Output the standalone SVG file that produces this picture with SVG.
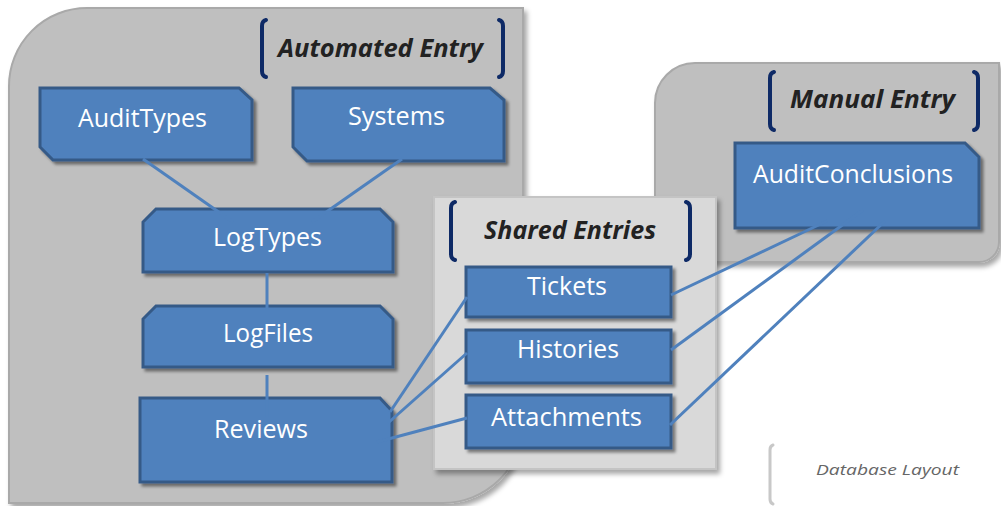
<svg xmlns="http://www.w3.org/2000/svg" width="1001" height="506" viewBox="0 0 1001 506">
<defs>
<filter id="sh" x="-10%" y="-10%" width="130%" height="140%">
<feDropShadow dx="3" dy="3" stdDeviation="1.8" flood-color="#000" flood-opacity="0.45"/>
</filter>
<filter id="psh" x="-5%" y="-5%" width="110%" height="115%">
<feDropShadow dx="3" dy="4" stdDeviation="2.5" flood-color="#000" flood-opacity="0.35"/>
</filter>
</defs>
<style>
.panel{fill:#bfbfbf;stroke:#a9a9a9;stroke-width:2}
.shared{fill:#d9d9d9;stroke:#c4c4c4;stroke-width:2}
.box{fill:#4f81bd;stroke:#365a87;stroke-width:3}
.lbl{font-family:"Open Sans","Noto Sans",sans-serif;font-size:25px;fill:#ffffff;text-anchor:start}
.ttl{font-family:"Open Sans","Noto Sans",sans-serif;font-size:25px;font-weight:bold;font-style:italic;fill:#222222}
.brk{fill:none;stroke:#0e2a66;stroke-width:4;stroke-linecap:round}
.con{fill:none;stroke:#4f81bd;stroke-width:3}
.note{font-family:"Open Sans","Noto Sans",sans-serif;font-size:15px;font-style:italic;fill:#666666}
</style>

<g id="panel-automated">
<path class="panel" filter="url(#psh)" d="M9 86 A78 78 0 0 1 87 8 L523 8 L523 423 A80 80 0 0 1 443 503 L9 503 Z"/>
<path class="brk" d="M266 20 Q262 21 262 26 L262 71 Q262 76 266 77"/>
<path class="brk" d="M499 20 Q503 21 503 26 L503 71 Q503 76 499 77"/>
<text class="ttl" x="278" y="57" textLength="205" lengthAdjust="spacingAndGlyphs">Automated Entry</text>
</g>

<g id="panel-manual">
<path class="panel" filter="url(#psh)" d="M655 103 A40 40 0 0 1 695 63 L999 63 L999 242 A20 20 0 0 1 979 262 L655 262 Z"/>
<path class="brk" d="M774 72 Q770 73 770 78 L770 124 Q770 129 774 130"/>
<path class="brk" d="M974 72 Q978 73 978 78 L978 124 Q978 129 974 130"/>
<text class="ttl" x="790" y="108" textLength="165" lengthAdjust="spacingAndGlyphs">Manual Entry</text>
</g>

<g id="panel-shared">
<rect class="shared" filter="url(#psh)" x="434" y="197" width="282" height="272"/>
<path class="brk" d="M455 202 Q451 203 451 208 L451 254 Q451 259 455 260"/>
<path class="brk" d="M686 202 Q690 203 690 208 L690 254 Q690 259 686 260"/>
<text class="ttl" x="484" y="239" textLength="172" lengthAdjust="spacingAndGlyphs">Shared Entries</text>
</g>

<g id="node-audittypes">
<path class="box" filter="url(#sh)" d="M40 88 L239 88 L252 100 L252 160 L53 160 L40 147 Z"/>
<text class="lbl" x="78" y="127" textLength="129" lengthAdjust="spacingAndGlyphs">AuditTypes</text>
</g>

<g id="node-systems">
<path class="box" filter="url(#sh)" d="M293 88 L490 88 L504 100 L504 161 L307 161 L293 147 Z"/>
<text class="lbl" x="348" y="125" textLength="97" lengthAdjust="spacingAndGlyphs">Systems</text>
</g>

<g id="node-logtypes">
<path class="box" filter="url(#sh)" d="M156 209 L380 209 L393 222 L393 272 L143 272 L143 222 Z"/>
<text class="lbl" x="213" y="246" textLength="109" lengthAdjust="spacingAndGlyphs">LogTypes</text>
</g>

<g id="node-logfiles">
<path class="box" filter="url(#sh)" d="M156 306 L380 306 L393 319 L393 367 L143 367 L143 319 Z"/>
<text class="lbl" x="223" y="342" textLength="90" lengthAdjust="spacingAndGlyphs">LogFiles</text>
</g>

<g id="node-reviews">
<path class="box" filter="url(#sh)" d="M140 398 L380 398 L392 411 L392 482 L140 482 Z"/>
<text class="lbl" x="214" y="438" textLength="94" lengthAdjust="spacingAndGlyphs">Reviews</text>
</g>

<g id="node-tickets">
<rect class="box" filter="url(#sh)" x="466" y="267" width="205" height="50"/>
<text class="lbl" x="527" y="295" textLength="80" lengthAdjust="spacingAndGlyphs">Tickets</text>
</g>

<g id="node-histories">
<rect class="box" filter="url(#sh)" x="466" y="330" width="205" height="53"/>
<text class="lbl" x="517" y="358" textLength="102" lengthAdjust="spacingAndGlyphs">Histories</text>
</g>

<g id="node-attachments">
<rect class="box" filter="url(#sh)" x="466" y="395" width="205" height="53"/>
<text class="lbl" x="491" y="426" textLength="151" lengthAdjust="spacingAndGlyphs">Attachments</text>
</g>

<g id="node-auditconclusions">
<path class="box" filter="url(#sh)" d="M735 143 L965 143 L979 157 L979 228 L735 228 Z"/>
<text class="lbl" x="753" y="183" textLength="200" lengthAdjust="spacingAndGlyphs">AuditConclusions</text>
</g>

<g id="connectors">
<line class="con" x1="143" y1="159" x2="233" y2="222"/>
<line class="con" x1="402" y1="159" x2="312" y2="222"/>
<line class="con" x1="267" y1="273" x2="267" y2="310"/>
<line class="con" x1="267" y1="375" x2="267" y2="417"/>
<line class="con" x1="390" y1="412" x2="467" y2="297"/>
<line class="con" x1="388" y1="423" x2="467" y2="353"/>
<line class="con" x1="377" y1="442" x2="467" y2="418"/>
<line class="con" x1="671" y1="295" x2="827" y2="221"/>
<line class="con" x1="671" y1="350" x2="863" y2="210"/>
<line class="con" x1="670" y1="425" x2="885" y2="221"/>
</g>

<g id="note-database-layout">
<path fill="none" stroke="#c8c8c8" stroke-width="3" stroke-linecap="round" d="M773 445 Q770 446 770 450 L770 499 Q770 503 773 504"/>
<text class="note" x="816" y="475" textLength="143" lengthAdjust="spacingAndGlyphs">Database Layout</text>
</g>
</svg>
